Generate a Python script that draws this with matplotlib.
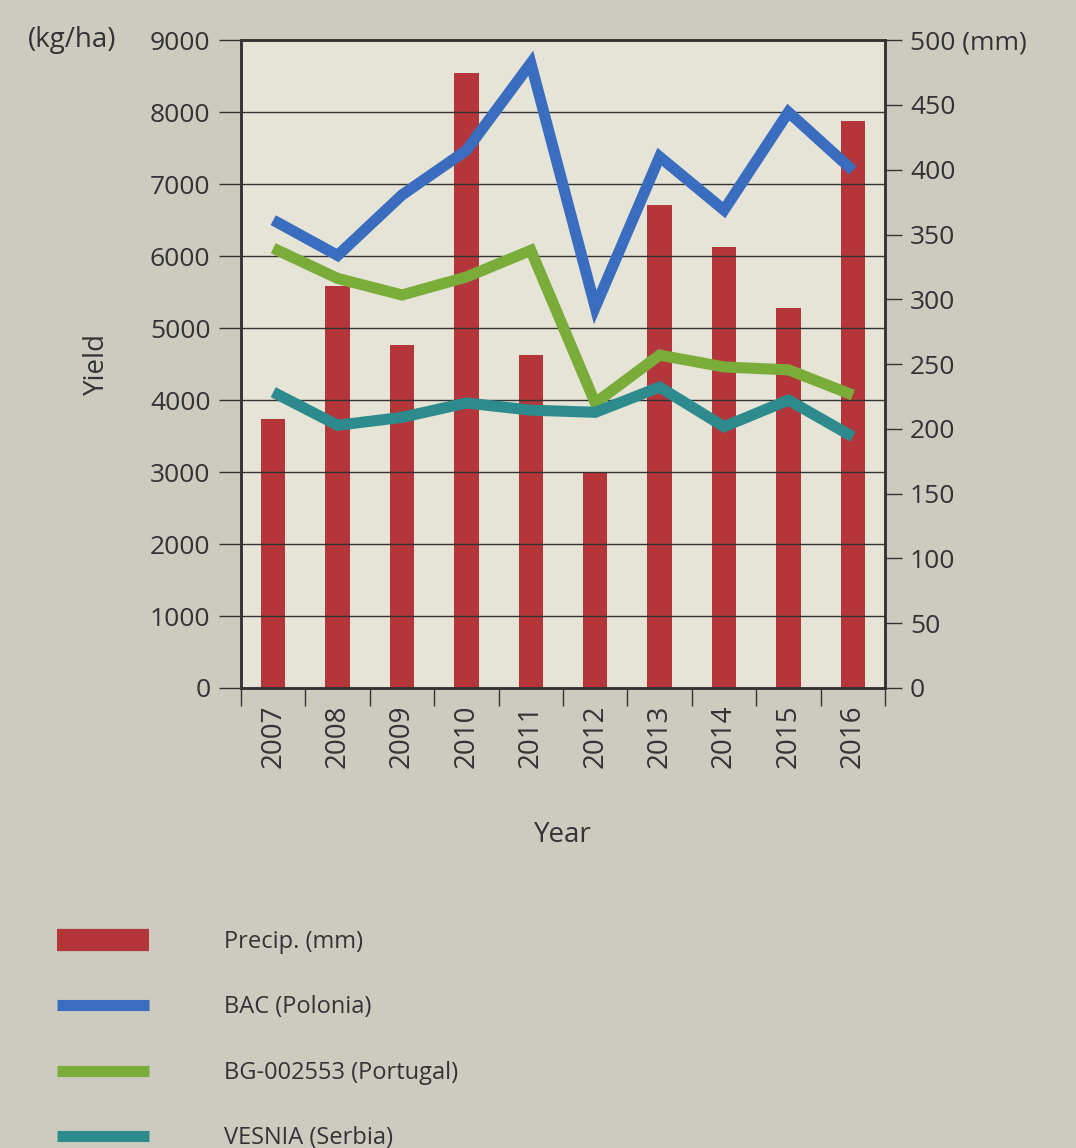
import matplotlib
matplotlib.use("Agg")
import matplotlib.pyplot as plt
import matplotlib.ticker as mticker
from matplotlib.lines import Line2D
import numpy as np

plt.rcParams["font.family"] = ["Open Sans", "DejaVu Sans"]

years = ["2007", "2008", "2009", "2010", "2011", "2012", "2013", "2014", "2015", "2016"]
precip_mm = [208, 310, 265, 475, 257, 167, 373, 340, 293, 438]
bac_polonia = [6500, 6010, 6850, 7470, 8680, 5290, 7380, 6640, 8000, 7190]
bg_portugal = [6110, 5690, 5460, 5710, 6080, 3960, 4625, 4460, 4420, 4070]
vesnia_serbia = [4110, 3650, 3760, 3960, 3860, 3830, 4180, 3630, 4000, 3490]

yield_ticks = list(range(0, 9001, 1000))
precip_ticks = list(range(0, 501, 50))

BG = "#cdcbc0"
PLOT_BG = "#e6e4d6"
RED = "#b4353a"
BLUE = "#3a6dbf"
GREEN = "#7aac3a"
TEAL = "#2e8b8d"
DARK = "#333333"

fig = plt.figure(figsize=(10.76, 11.48), dpi=100, facecolor=BG)
ax = fig.add_axes([0.224, 0.4007, 0.5985, 0.5643])
ax2 = ax.twinx()

x = np.arange(len(years))

# bars on the right (mm) axis, lines on the left (kg/ha) axis
ax2.bar(x, precip_mm, width=0.38, color=RED, zorder=2)
ax2.set_ylim(0, 500)
ax.set_ylim(0, 9000)
ax.set_xlim(-0.5, len(years) - 0.5)

# lines above bars: put ax in front of ax2, ax2 carries the background
ax.set_zorder(ax2.get_zorder() + 1)
ax.patch.set_visible(False)
ax2.patch.set_visible(True)
ax2.patch.set_facecolor(PLOT_BG)

for vals, col in [(bac_polonia, BLUE), (bg_portugal, GREEN), (vesnia_serbia, TEAL)]:
    ax.plot(x, vals, color=col, linewidth=8, solid_joinstyle="miter",
            solid_capstyle="butt", zorder=3)

# grid lines at each 1000 kg/ha
for t in yield_ticks[1:-1]:
    ax.axhline(t, color=DARK, linewidth=1.0, zorder=1)

ax.set_yticks(yield_ticks)
ax.set_yticklabels([str(t) for t in yield_ticks])
ax2.set_yticks(precip_ticks)
ax2.set_yticklabels([f"{t} (mm)" if t == 500 else str(t) for t in precip_ticks])

ax.set_xticks(x)
ax.set_xticklabels(years, rotation=90)
ax.xaxis.set_minor_locator(mticker.FixedLocator(np.arange(-0.5, len(years), 1.0)))
ax.tick_params(axis="x", which="major", length=0, pad=12, labelsize=20, labelcolor=DARK)
ax.tick_params(axis="x", which="minor", length=13, width=1, color=DARK, direction="out")
ax.tick_params(axis="y", length=16, width=1, color=DARK, pad=6, labelsize=19, labelcolor=DARK)
ax2.tick_params(axis="y", length=12, width=1, color=DARK, pad=6, labelsize=19, labelcolor=DARK)

for a in (ax, ax2):
    for s in a.spines.values():
        s.set_color(DARK)
        s.set_linewidth(1.8)

ax.set_ylabel("Yield", fontsize=20, color=DARK, labelpad=28)
ax.set_xlabel("Year", fontsize=20, color=DARK, labelpad=38)
fig.text(0.067, 0.9651, "(kg/ha)", fontsize=20, color=DARK, ha="center", va="center")

handles = [
    Line2D([0], [0], color=RED, linewidth=16, solid_capstyle="butt"),
    Line2D([0], [0], color=BLUE, linewidth=8, solid_capstyle="butt"),
    Line2D([0], [0], color=GREEN, linewidth=8, solid_capstyle="butt"),
    Line2D([0], [0], color=TEAL, linewidth=8, solid_capstyle="butt"),
]
labels = ["Precip. (mm)", "BAC (Polonia)", "BG-002553 (Portugal)", "VESNIA (Serbia)"]
fig.legend(handles, labels, loc="upper left", bbox_to_anchor=(0.044, 0.198),
           frameon=False, fontsize=17, handlelength=3.9, handletextpad=3.2,
           labelspacing=1.75, labelcolor=DARK, borderaxespad=0)

fig.savefig("out.png", dpi=100, facecolor=BG)
